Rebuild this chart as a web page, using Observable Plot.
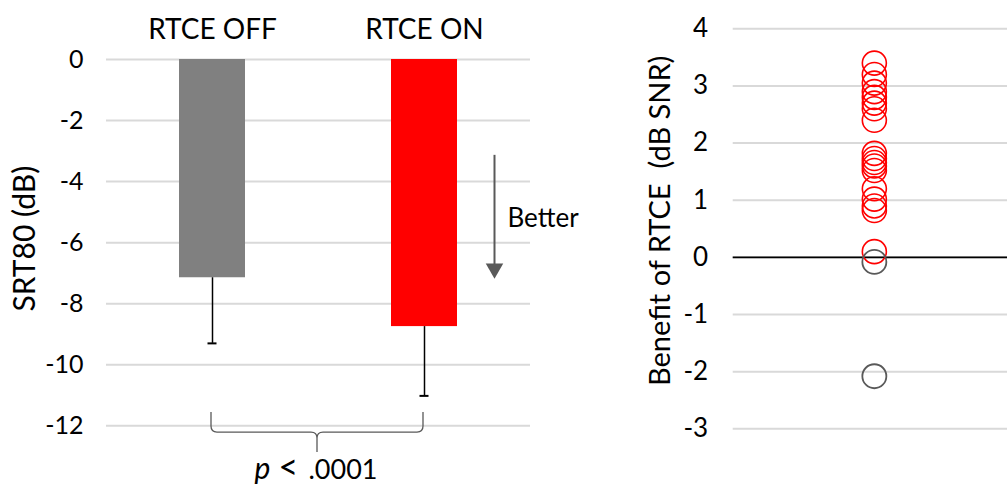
<!DOCTYPE html>
<html>
<head>
<meta charset="utf-8">
<script src="https://cdn.jsdelivr.net/npm/d3@7"></script>
<script src="https://cdn.jsdelivr.net/npm/@observablehq/plot@0.6"></script>
<style>
  html, body { margin: 0; padding: 0; background: #fff; }
  #wrap { position: relative; width: 1007px; height: 486px; overflow: hidden; }
  #left, #right { position: absolute; top: 0; }
  #left { left: 0; }
  #right { left: 600px; }
</style>
</head>
<body>
<div id="wrap"><div id="left"></div><div id="right"></div></div>
<script>
// ---- Data ----
const categories = ["RTCE OFF", "RTCE ON"];
const srtMean = [-7.15, -8.75];
const srtSD = [2.15, 2.27];
const srtTicks = [0, -2, -4, -6, -8, -10, -12];
const srtAxisLabel = "SRT80 (dB)";
const betterArrow = {from: -3.14, to: -6.75, head: -6.85, label: "Better", labelY: -5.2};
const braceY = [-11.55];
const pValueY = -13.75;
const pValueParts = ["p", "<", ".0001"];

const benefit = [3.4, 3.2, 3.05, 2.9, 2.8, 2.7, 2.6, 2.4,
                 1.82, 1.73, 1.66, 1.6, 1.52,
                 1.2, 1.02, 0.9, 0.82,
                 0.1, -0.08, -2.08];
const benefitTicks = [4, 3, 2, 1, 0, -1, -2, -3];
const benefitAxisLabel = "Benefit of RTCE  (dB SNR)";

const font = "Lato, 'Noto Sans', sans-serif";
const gridColor = "#d9d9d9";
const barColors = ["#808080", "#ff0000"];

const srtData = categories.map((c, i) => ({cond: c, mean: srtMean[i], low: srtMean[i] - srtSD[i]}));

// custom curly-brace curve for a link between two points
function braceCurve(context) {
  const pts = [];
  return {
    areaStart() {}, areaEnd() {},
    lineStart() { pts.length = 0; },
    point(x, y) { pts.push([x, y]); },
    lineEnd() {
      const [[x0, y0], [x1]] = pts;
      const d = 20, r = 6, t = 20, mx = (x0 + x1) / 2;
      context.moveTo(x0, y0);
      context.lineTo(x0, y0 + d - r);
      context.quadraticCurveTo(x0, y0 + d, x0 + r, y0 + d);
      context.lineTo(mx - r, y0 + d);
      context.quadraticCurveTo(mx, y0 + d, mx, y0 + d + r);
      context.lineTo(mx, y0 + d + t);
      context.moveTo(mx, y0 + d + r);
      context.quadraticCurveTo(mx, y0 + d, mx + r, y0 + d);
      context.lineTo(x1 - r, y0 + d);
      context.quadraticCurveTo(x1, y0 + d, x1, y0 + d - r);
      context.lineTo(x1, y0);
    }
  };
}

const left = Plot.plot({
  width: 600, height: 486,
  marginLeft: 106, marginRight: 70, marginTop: 59, marginBottom: 60.7,
  style: {fontFamily: font, fontSize: "25px", color: "#000", background: "transparent", overflow: "visible"},
  x: {domain: categories, paddingInner: 0.689, paddingOuter: 0.344, label: null},
  y: {domain: [-12, 0], ticks: srtTicks, tickSize: 0, tickPadding: 23, label: null, tickFormat: d => String(d)},
  color: {domain: categories, range: barColors},
  marks: [
    Plot.axisX({anchor: "top", tickSize: 0, tickPadding: 21, fontSize: 28, label: null, fill: "#000"}),
    Plot.ruleY(srtTicks, {stroke: gridColor, strokeWidth: 2}),
    Plot.barY(srtData, {x: "cond", y: "mean", fill: "cond"}),
    Plot.ruleX(srtData, {x: "cond", y1: "mean", y2: "low", stroke: "#000", strokeWidth: 1.5}),
    Plot.tickY(srtData, {x: "cond", y: "low", stroke: "#000", strokeWidth: 2, insetLeft: 28.5, insetRight: 28.5}),
    Plot.ruleX([betterArrow], {x: () => categories[1], y1: "from", y2: "to", dx: 70, stroke: "#595959", strokeWidth: 2}),
    Plot.dot([betterArrow], {x: () => categories[1], y: "head", dx: 70, symbol: "triangle", r: 6.5, rotate: 180, fill: "#595959", stroke: null}),
    Plot.text([betterArrow], {x: () => categories[1], y: "labelY", text: "label", dx: 83, textAnchor: "start", fontSize: 26, fill: "#000"}),
    Plot.link(braceY, {x1: () => categories[0], x2: () => categories[1], y1: d => d, y2: d => d, curve: braceCurve, stroke: "#595959", strokeWidth: 1.3, dx: -1.5}),
    Plot.text([pValueParts[0]], {y: () => pValueY, frameAnchor: "middle", text: d => d, textAnchor: "start", lineAnchor: "bottom", dx: -64, fontSize: 30, fontStyle: "italic", fill: "#000"}),
    Plot.text([pValueParts[1]], {y: () => pValueY, frameAnchor: "middle", text: d => d, textAnchor: "start", lineAnchor: "bottom", dx: -40, fontSize: 34, fill: "#000"}),
    Plot.text([pValueParts[2]], {y: () => pValueY, frameAnchor: "middle", text: d => d, textAnchor: "start", lineAnchor: "bottom", dx: -10, fontSize: 27, fill: "#000"}),
    Plot.text([srtAxisLabel], {frameAnchor: "left", text: d => d, rotate: -90, textAnchor: "middle", lineAnchor: "middle", dx: -81, dy: -4, fontSize: 30, fill: "#000"})
  ]
});
document.getElementById("left").appendChild(left);

const right = Plot.plot({
  width: 407, height: 486,
  marginLeft: 132.7, marginRight: 0, marginTop: 28.3, marginBottom: 57.7,
  style: {fontFamily: font, fontSize: "26px", color: "#000", background: "transparent", overflow: "visible"},
  y: {domain: [-3, 4], ticks: benefitTicks, tickSize: 0, tickPadding: 25, label: null, tickFormat: d => String(d)},
  marks: [
    Plot.ruleY(benefitTicks, {stroke: gridColor, strokeWidth: 2}),
    Plot.ruleY([0], {stroke: "#000", strokeWidth: 1.8}),
    Plot.dot(benefit.filter(v => v > 0), {y: d => d, frameAnchor: "middle", dx: 4, r: 12, stroke: "#ff0000", strokeWidth: 1.6, fill: "none"}),
    Plot.dot(benefit.filter(v => v <= 0), {y: d => d, frameAnchor: "middle", dx: 4, r: 12, stroke: "#595959", strokeWidth: 1.8, fill: "none"}),
    Plot.text([benefitAxisLabel], {frameAnchor: "left", text: d => d, rotate: -90, textAnchor: "middle", lineAnchor: "middle", dx: -72.7, dy: -8, fontSize: 29, fill: "#000"})
  ]
});
document.getElementById("right").appendChild(right);
</script>
</body>
</html>
